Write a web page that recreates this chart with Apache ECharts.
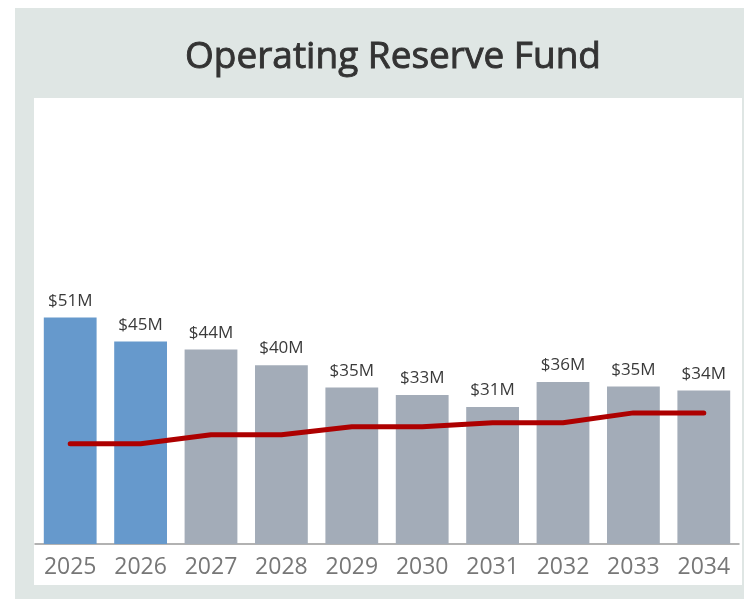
<!DOCTYPE html>
<html>
<head>
<meta charset="utf-8">
<script src="https://cdn.jsdelivr.net/npm/echarts@6/dist/echarts.min.js"></script>
<style>
  html, body { margin: 0; padding: 0; background: #fff; }
  #chart { width: 744px; height: 599px; }
</style>
</head>
<body>
<div id="chart"></div>
<script>
// years on the x axis
var years = ['2025', '2026', '2027', '2028', '2029', '2030', '2031', '2032', '2033', '2034'];
// reserve fund balance ($M)
var reserveFund = [50.8, 45.4, 43.6, 40.1, 35.1, 33.4, 30.7, 36.3, 35.3, 34.4];
// target / minimum reserve line ($M)
var targetLevel = [22.5, 22.5, 24.5, 24.5, 26.3, 26.3, 27.2, 27.2, 29.4, 29.4];
// first two years are actuals (blue), rest projected (grey)
var actualYears = 2;

var chart = echarts.init(document.getElementById('chart'));

var option = {
  backgroundColor: '#fff',
  animation: false,
  title: {
    text: 'Operating Reserve Fund',
    left: 388,
    top: 34,
    textAlign: 'center',
    textStyle: {
      fontFamily: 'Open Sans',
      fontSize: 37,
      fontWeight: 'normal',
      color: '#333',
      // a thin stroke to get a medium weight
      textBorderColor: '#333',
      textBorderWidth: 0.9
    }
  },
  graphic: [
    { type: 'rect', z: -10, shape: { x: 15, y: 8, width: 729, height: 591 }, style: { fill: '#dfe6e4' } },
    { type: 'rect', z: -9, shape: { x: 34, y: 98, width: 708, height: 487 }, style: { fill: '#fff' } }
  ],
  grid: { left: 35, right: 5, top: 98, bottom: 55, containLabel: false },
  xAxis: {
    type: 'category',
    data: years,
    axisTick: { show: false },
    axisLine: { lineStyle: { color: '#999', width: 1.5 } },
    axisLabel: {
      margin: 12,
      fontFamily: 'Open Sans',
      fontSize: 23,
      color: '#777'
    }
  },
  yAxis: {
    type: 'value',
    min: 0,
    max: 100,
    show: false,
    splitLine: { show: false }
  },
  series: [
    {
      name: 'Reserve',
      type: 'bar',
      barWidth: '75%',
      data: reserveFund.map(function (v, i) {
        return { value: v, itemStyle: { color: i < actualYears ? '#6699cc' : '#a3acb8' } };
      }),
      label: {
        show: true,
        position: 'top',
        distance: 8,
        fontFamily: 'Open Sans',
        fontSize: 17,
        color: '#3a3a3a',
        formatter: function (p) { return '$' + Math.round(p.value) + 'M'; }
      }
    },
    {
      name: 'Target',
      type: 'line',
      data: targetLevel,
      symbol: 'none',
      lineStyle: { color: '#ad0000', width: 5, cap: 'round', join: 'round' },
      z: 5
    }
  ]
};

chart.setOption(option);
</script>
</body>
</html>
